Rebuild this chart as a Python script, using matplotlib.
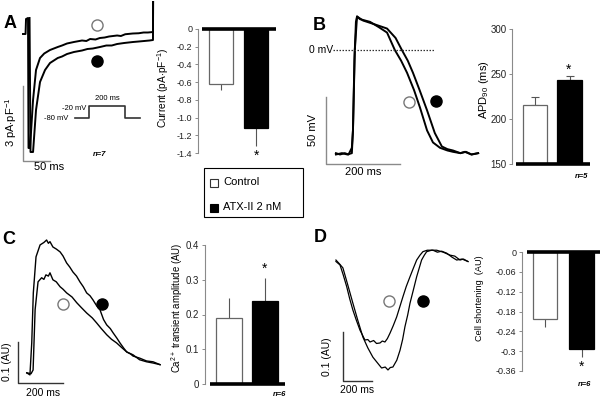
import matplotlib
matplotlib.use('Agg')
import matplotlib.pyplot as plt

plt.rcParams['font.family'] = ['Liberation Sans', 'DejaVu Sans']
plt.rcParams['mathtext.fontset'] = 'custom'
plt.rcParams['mathtext.rm'] = 'Liberation Sans'
plt.rcParams['mathtext.it'] = 'Liberation Sans:italic'
plt.rcParams['mathtext.bf'] = 'Liberation Sans:bold'
plt.rcParams['axes.unicode_minus'] = False

# ---------------- data ----------------
groups = ['Control', 'ATX-II 2 nM']

# Panel A bar: late Na current (pA/pF)
ina_mean = [-0.62, -1.12]
ina_err = [0.07, 0.20]
ina_ticks = [0, -0.2, -0.4, -0.6, -0.8, -1.0, -1.2, -1.4]
ina_ticklabels = ['0', '-0.2', '-0.4', '-0.6', '-0.8', '-1.0', '-1.2', '-1.4']

# Panel B bar: APD90 (ms)
apd_mean = [216, 243]
apd_err = [8, 5]
apd_ticks = [150, 200, 250, 300]

# Panel C bar: Ca transient amplitude (AU)
ca_mean = [0.19, 0.239]
ca_err = [0.057, 0.066]
ca_ticks = [0, 0.1, 0.2, 0.3, 0.4]
ca_ticklabels = ['0', '0.1', '0.2', '0.3', '0.4']

# Panel D bar: cell shortening (AU)
sh_mean = [-0.203, -0.293]
sh_err = [0.024, 0.025]
sh_ticks = [0, -0.06, -0.12, -0.18, -0.24, -0.3, -0.36]
sh_ticklabels = ['0', '-0.06', '-0.12', '-0.18', '-0.24', '-0.3', '-0.36']

# Panel A traces: time (ms), current (pA/pF)
a_ctrl_t = [-9.3, -4.6, -3.7, 0, 0.9, 3.7, 9.3, 14.8, 22.2, 30, 40.7, 55, 63, 72.2, 85, 100, 108,
            115, 125, 133, 142, 150, 165, 172, 180, 194, 205, 214, 222, 231.4, 231.6]
a_ctrl_i = [-0.56, -0.56, 0.04, 0.08, -5.12, -5.12, -3.2, -2.0, -1.52, -1.34, -1.2, -1.08, -1.02, -0.94,
            -0.88, -0.82, -0.84, -0.76, -0.78, -0.72, -0.70, -0.66, -0.62, -0.64, -0.57, -0.54, -0.53,
            -0.50, -0.50, -0.48, 0.72]
a_atx_t = [2.8, 4.6, 9.3, 14.8, 22.2, 31.5, 40.7, 55, 63, 72.2, 85, 100, 110, 120, 133.3, 145,
           155, 165, 178, 194.4, 205, 215, 225, 231.4, 231.6]
a_atx_i = [0.08, -5.28, -5.28, -3.6, -2.48, -2.0, -1.72, -1.52, -1.46, -1.36, -1.28, -1.22, -1.16,
           -1.14, -1.08, -1.02, -1.02, -0.96, -0.92, -0.88, -0.86, -0.84, -0.82, -0.80, 0.72]

# protocol inset: time (ms), voltage (mV)
prot_t = [-78, 0, 0, 200, 200, 283]
prot_v = [-80, -80, -20, -20, -80, -80]

# Panel B traces: time (ms), membrane potential (mV)
b_ctrl_t = [-46, -35, -22, -12, -3, 0, 4, 8, 11, 19, 46, 70, 92, 113, 130, 146, 165, 181, 200, 216,
            235, 255, 270, 290, 302, 320, 338]
b_ctrl_v = [-77, -78, -77, -78, -73, -60, -7, 21, 25, 23, 21, 17, 13, 0, -8, -17, -30, -43, -60,
            -69, -73, -75, -76, -77, -76, -78, -77]
b_atx_t = [-46, -30, -15, -3, 0, 5, 11, 27, 60, 92, 115, 132, 148, 162, 180, 200, 221, 240, 255,
           270, 290, 305, 320, 338]
b_atx_v = [-78, -77, -78, -77, -60, 0, 25, 22, 19, 16, 9, 0, -8, -17, -30, -45, -62, -72, -74,
           -75, -77, -76, -78, -77]

# Panel C traces: time (ms), fluorescence (AU)
c_ctrl_t = [-1, 18, 27, 36, 49, 65, 75, 84, 95, 102, 115, 130, 147, 160, 176, 200, 221, 240, 265,
            290, 309, 330, 354, 375, 398, 420, 443, 460, 471, 500, 531, 560, 591]
c_ctrl_f = [0, -0.002, 0.007, 0.154, 0.222, 0.232, 0.228, 0.239, 0.236, 0.244, 0.227, 0.222,
            0.210, 0.204, 0.195, 0.185, 0.171, 0.160, 0.146, 0.134, 0.122, 0.108, 0.093, 0.082,
            0.073, 0.062, 0.051, 0.046, 0.041, 0.036, 0.029, 0.027, 0.020]
c_atx_t = [-1, 13, 21, 28, 40, 58, 75, 87, 95, 102, 115, 130, 147, 160, 176, 190, 204, 220, 235,
           250, 265, 280, 293, 310, 324, 340, 354, 370, 382, 400, 413, 430, 443, 471, 500, 531, 560,
           591]
c_atx_f = [0, -0.005, 0.073, 0.195, 0.283, 0.312, 0.318, 0.324, 0.316, 0.320, 0.307, 0.302,
           0.295, 0.285, 0.268, 0.258, 0.246, 0.236, 0.222, 0.210, 0.195, 0.188, 0.178, 0.163,
           0.154, 0.130, 0.117, 0.108, 0.098, 0.084, 0.073, 0.060, 0.051, 0.044, 0.032, 0.027,
           0.024, 0.020]

# Panel D traces: time (ms), cell length change (AU)
d_ctrl_t = [0, 28, 50, 74, 95, 117, 140, 166, 185, 200, 220, 235, 260, 280, 304, 320, 338, 355,
            373, 395, 419, 440, 462, 485, 511, 535, 557, 580, 600, 630, 669, 700, 730, 764, 800, 833,
            870, 911]
d_ctrl_l = [0.001, -0.006, -0.026, -0.050, -0.075, -0.098, -0.118, -0.139, -0.150, -0.159, -0.158,
            -0.163, -0.160, -0.166, -0.165, -0.161, -0.163, -0.156, -0.145, -0.130, -0.112, -0.092,
            -0.071, -0.050, -0.030, -0.012, 0.004, 0.014, 0.021, 0.024, 0.024, 0.020, 0.022, 0.018,
            0.010, 0.004, 0.006, 0.001]
d_atx_t = [0, 25, 48, 80, 117, 150, 186, 220, 255, 285, 315, 340, 359, 375, 393, 420, 442, 460,
           476, 495, 511, 535, 557, 575, 591, 610, 626, 660, 695, 740, 787, 820, 856, 880, 911]
d_atx_l = [0.004, -0.004, -0.012, -0.045, -0.084, -0.118, -0.153, -0.175, -0.194, -0.205, -0.216,
           -0.214, -0.220, -0.215, -0.214, -0.200, -0.180, -0.158, -0.132, -0.108, -0.084, -0.056,
           -0.030, -0.012, 0.004, 0.014, 0.021, 0.024, 0.024, 0.020, 0.014, 0.012, 0.004, 0.006,
           0.001]

# ---------------- figure ----------------
W, H = 602, 400
fig = plt.figure(figsize=(W / 100, H / 100), dpi=100)

GRAY = '#8a8a8a'
ERRC = '#555555'


def ax_px(l, t, r, b):
    ax = fig.add_axes([l / W, 1 - b / H, (r - l) / W, (b - t) / H])
    return ax


def ftext(x, y, s, **kw):
    kw.setdefault('ha', 'center')
    kw.setdefault('va', 'center')
    fig.text(x / W, 1 - y / H, s, **kw)


def trace_axes(l, t, r, b, xlim, ylim):
    ax = ax_px(l, t, r, b)
    ax.set_xlim(*xlim)
    ax.set_ylim(*ylim)
    ax.axis('off')
    return ax


def bar_axes(l, t, r, b, xlim, ylim, ticks, ticklabels, fs, means, errs, width, capsize,
             base, base_x):
    ax = ax_px(l, t, r, b)
    ax.set_xlim(*xlim)
    ax.set_ylim(*ylim)
    for s in ['top', 'right', 'bottom']:
        ax.spines[s].set_visible(False)
    ax.spines['left'].set_color(GRAY)
    ax.spines['left'].set_linewidth(0.8)
    ax.set_yticks(ticks)
    ax.set_yticklabels(ticklabels, fontsize=fs, color='#222222')
    ax.tick_params(axis='y', length=2.5, width=0.7, color=GRAY, pad=1.5)
    ax.set_xticks([])
    xs = [0, 1]
    ax.bar(xs, means, width=width, color=['white', 'black'],
           edgecolor=['#666666', 'black'], linewidth=0.9, zorder=2)
    for x, m, e in zip(xs, means, errs):
        if m < base:
            yerr = [[e], [0]]
        else:
            yerr = [[0], [e]]
        ax.errorbar([x], [m], yerr=yerr, fmt='none', ecolor=ERRC, elinewidth=0.8,
                    capsize=capsize, capthick=0.8, zorder=1)
    ax.plot(base_x, [base, base], color='black', lw=2.6, solid_capstyle='butt',
            zorder=3, clip_on=False)
    return ax


# ---------- Panel A ----------
axA = trace_axes(0, 0, 160, 170, (-51.9, 244.4), (-6.0, 0.8))
axA.plot(a_ctrl_t, a_ctrl_i, color='black', lw=1.4)
axA.plot(a_atx_t, a_atx_i, color='black', lw=1.4)
# scale bars 50 ms / 3 pA/pF
axA.plot([-9.3, -9.3, 40.7], [-2.64, -5.64, -5.64], color=GRAY, lw=1.0)
axA.plot([128], [-0.2], 'o', mfc='white', mec='#777777', ms=8, mew=1.0)
axA.plot([128], [-1.64], 'o', mfc='black', mec='black', ms=8)

axP = trace_axes(73, 100, 142, 124, (-89, 294.7), (-110, 10))
axP.plot(prot_t, prot_v, color='#333333', lw=1.2)
ftext(86, 108, '-20 mV', ha='right', fontsize=5.5)
ftext(68, 118, '-80 mV', ha='right', fontsize=5.5)
ftext(107, 99, '200 ms', fontsize=5.5)

ftext(10, 24, 'A', fontsize=13, fontweight='bold')
ftext(11, 122, r'3 pA$\cdot$pF$^{-1}$', fontsize=8, rotation=90)
ftext(49, 167, '50 ms', fontsize=8)
ftext(100, 155, 'n=7', fontsize=5.5, style='italic', fontweight='bold')

axAb = bar_axes(198, 29, 278, 153, (-0.657, 1.629), (-1.4, 0), ina_ticks, ina_ticklabels, 6.5,
                ina_mean, ina_err, 0.686, 0, 0, [-0.543, 1.571])
ftext(163, 88, r'Current (pA$\cdot$pF$^{-1}$)', fontsize=7.3, rotation=90)
ftext(257, 156, '*', fontsize=10)

# legend box
fig.patches.append(plt.Rectangle((204 / W, 1 - 217 / H), 99 / W, 49 / H, transform=fig.transFigure,
                                 fill=False, edgecolor='black', lw=0.8))
fig.patches.append(plt.Rectangle((210 / W, 1 - 187 / H), 8 / W, 8 / H, transform=fig.transFigure,
                                 facecolor='white', edgecolor='#333333', lw=0.8))
fig.patches.append(plt.Rectangle((210 / W, 1 - 212 / H), 8 / W, 8 / H, transform=fig.transFigure,
                                 facecolor='black', edgecolor='black', lw=0.8))
ftext(223, 182, groups[0], ha='left', fontsize=8)
ftext(223, 207, groups[1], ha='left', fontsize=8)

# ---------- Panel B ----------
axB = trace_axes(300, 0, 480, 175, (-143, 343), (-93.3, 37.3))
axB.plot(b_ctrl_t, b_ctrl_v, color='black', lw=1.4)
axB.plot(b_atx_t, b_atx_v, color='black', lw=1.4)
axB.plot([-54, 221], [0, 0], color='#333333', lw=0.9, ls=(0, (1.2, 1.2)))
axB.plot([-73, -73, 127], [-35, -85, -85], color=GRAY, lw=1.0)
axB.plot([151], [-39], 'o', mfc='white', mec='#777777', ms=8, mew=1.0)
axB.plot([224], [-38], 'o', mfc='black', mec='black', ms=8)
ftext(319, 25, 'B', fontsize=13, fontweight='bold')
ftext(333, 50, '0 mV', ha='right', fontsize=7.5)
ftext(313, 130, '50 mV', fontsize=8, rotation=90)
ftext(363, 172, '200 ms', fontsize=8)

axBb = bar_axes(512, 29, 592, 164, (-0.667, 1.652), (150, 300), apd_ticks,
                [str(v) for v in apd_ticks], 7, apd_mean, apd_err, 0.7, 2.9, 150, [-0.55, 1.58])
ftext(484, 90, r'APD$_{90}$ (ms)', fontsize=8, rotation=90)
ftext(569, 70, '*', fontsize=10)
ftext(582, 177, 'n=5', fontsize=5.5, style='italic', fontweight='bold')

# ---------- Panel C ----------
axC = trace_axes(0, 215, 165, 395, (-120, 613), (-0.054, 0.385))
axC.plot(c_ctrl_t, c_ctrl_f, color='black', lw=1.0)
axC.plot(c_atx_t, c_atx_f, color='black', lw=1.0)
axC.plot([-40, -40, 160], [0.076, -0.024, -0.024], color='#333333', lw=1.0)
axC.plot([160], [0.168], 'o', mfc='white', mec='#777777', ms=8, mew=1.0)
axC.plot([333], [0.168], 'o', mfc='black', mec='black', ms=8)
ftext(9, 240, 'C', fontsize=13, fontweight='bold')
ftext(7, 362, '0.1 (AU)', fontsize=7.5, rotation=90)
ftext(43, 393, '200 ms', fontsize=7.5)

axCb = bar_axes(205, 245, 287, 384, (-0.667, 1.61), (0, 0.4), ca_ticks, ca_ticklabels, 7,
                ca_mean, ca_err, 0.72, 0, 0, [-0.528, 1.555])
ftext(177, 308, r'Ca$^{2+}$ transient amplitude (AU)', fontsize=6.9, rotation=90)
ftext(265, 269, '*', fontsize=10)
ftext(280, 394, 'n=6', fontsize=5.5, style='italic', fontweight='bold')

# ---------- Panel D ----------
axD = trace_axes(320, 235, 480, 395, (-110, 994), (-0.271, 0.055))
axD.plot(d_ctrl_t, d_ctrl_l, color='black', lw=0.9)
axD.plot(d_atx_t, d_atx_l, color='black', lw=0.9)
axD.plot([48, 48, 248], [-0.143, -0.243, -0.243], color='#333333', lw=1.0)
axD.plot([366], [-0.080], 'o', mfc='white', mec='#777777', ms=8, mew=1.0)
axD.plot([600], [-0.080], 'o', mfc='black', mec='black', ms=8)
ftext(320, 237, 'D', fontsize=13, fontweight='bold')
ftext(327, 357, '0.1 (AU)', fontsize=7.5, rotation=90)
ftext(357, 390, '200 ms', fontsize=7.5)

axDb = bar_axes(522, 252, 602, 371, (-0.63, 1.56), (-0.36, 0), sh_ticks, sh_ticklabels, 6.5,
                sh_mean, sh_err, 0.66, 0, 0, [-0.493, 1.507])
ftext(480, 298, 'Cell shortening  (AU)', fontsize=6.6, rotation=90)
ftext(582, 367, '*', fontsize=10)
ftext(585, 384, 'n=6', fontsize=5.5, style='italic', fontweight='bold')

fig.savefig('out.png', dpi=100)
